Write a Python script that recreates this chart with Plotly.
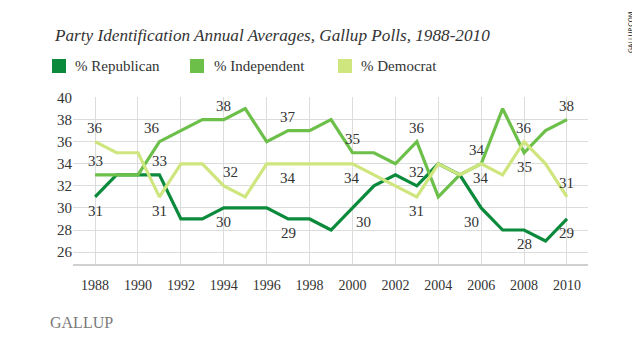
import plotly.graph_objects as go

years = list(range(1988, 2011))
republican = [31, 33, 33, 33, 29, 29, 30, 30, 30, 29, 29, 28, 30, 32, 33, 32, 34, 33, 30, 28, 28, 27, 29]
independent = [33, 33, 33, 36, 37, 38, 38, 39, 36, 37, 37, 38, 35, 35, 34, 36, 31, 33, 34, 39, 35, 37, 38]
democrat = [36, 35, 35, 31, 34, 34, 32, 31, 34, 34, 34, 34, 34, 33, 32, 31, 34, 33, 34, 33, 36, 34, 31]

series_names = ["% Republican", "% Independent", "% Democrat"]
x_ticks = list(range(1988, 2011, 2))
y_ticks = list(range(26, 41, 2))

# value labels: (year, series index, above?, xshift)
value_labels = [
    (1988, 2, True, 0), (1988, 1, True, 0), (1988, 0, False, 0),
    (1991, 1, True, -7), (1991, 0, True, 0), (1991, 2, False, 0),
    (1994, 1, True, 0), (1994, 2, True, 7), (1994, 0, False, 0),
    (1997, 1, True, 0), (1997, 2, False, 0), (1997, 0, False, 0),
    (2000, 1, True, 0), (2000, 2, False, 0), (2000, 0, False, 11),
    (2003, 1, True, 0), (2003, 0, True, 0), (2003, 2, False, 0),
    (2006, 1, True, -4), (2006, 2, False, 0), (2006, 0, False, -10),
    (2008, 2, True, 0), (2008, 1, False, 0), (2008, 0, False, 0),
    (2010, 1, True, 0), (2010, 2, True, 0), (2010, 0, False, 0),
]

colors = ["#0B8A3C", "#6CC04A", "#CFE67E"]
all_values = [republican, independent, democrat]
SERIF = "Liberation Serif"
TXT = "#333333"

# the page puts the figure 8px in from the top-left corner of the window
OFF = 8
W, H = 640 - OFF, 360 - OFF
L, R, T, B = 73 - OFF, 52, 97 - OFF, 96
PW, PH = W - L - R, H - T - B


def px(x):
    return (x - OFF - L) / PW


def py(y):
    return (H - B - (y - OFF)) / PH


fig = go.Figure()
for idx in [0, 1, 2]:
    fig.add_trace(go.Scatter(
        x=years, y=all_values[idx], mode="lines", name=series_names[idx],
        line=dict(color=colors[idx], width=3.2), showlegend=False,
        hoverinfo="x+y",
    ))

annotations = []
for yr, si, above, xs in value_labels:
    v = all_values[si][years.index(yr)]
    annotations.append(dict(
        x=yr, y=v, xref="x", yref="y", text=str(v), showarrow=False,
        font=dict(family=SERIF, size=15, color=TXT),
        yshift=14 if above else -14, xshift=xs,
    ))

# title
annotations.append(dict(
    x=px(52), y=py(36), xref="paper", yref="paper", xanchor="left", yanchor="middle",
    text="<i>Party Identification Annual Averages, Gallup Polls, 1988-2010</i>",
    showarrow=False, font=dict(family=SERIF, size=17.2, color=TXT),
))

# legend
shapes = []
leg_sq = [52, 190, 338]
leg_tx = [73, 212, 359]
for i in range(3):
    shapes.append(dict(
        type="rect", xref="paper", yref="paper",
        x0=px(leg_sq[i]), x1=px(leg_sq[i] + 14), y0=py(73), y1=py(59),
        fillcolor=colors[i], line=dict(width=0),
    ))
    annotations.append(dict(
        x=px(leg_tx[i]), y=py(66), xref="paper", yref="paper", xanchor="left",
        yanchor="middle", text=series_names[i], showarrow=False,
        font=dict(family=SERIF, size=15, color=TXT),
    ))

# Gallup logo & side text
annotations.append(dict(
    x=px(48), y=py(322), xref="paper", yref="paper", xanchor="left", yanchor="middle",
    text="GALLUP", showarrow=False,
    font=dict(family=SERIF, size=16, color="#7a7a7a"),
))
annotations.append(dict(
    x=px(631), y=py(33), xref="paper", yref="paper", xanchor="center", yanchor="middle",
    text="GALLUP.COM", showarrow=False, textangle=-90,
    font=dict(family="DejaVu Sans", size=6.5, color="#111111"),
))

fig.update_layout(
    width=W, height=H,
    margin=dict(l=L, r=R, t=T, b=B),
    paper_bgcolor="white", plot_bgcolor="white",
    showlegend=False,
    annotations=annotations, shapes=shapes,
    xaxis=dict(
        range=[1986.97, 2010.98], tickvals=x_ticks, ticktext=[str(t) for t in x_ticks],
        showgrid=True, gridcolor="#dcdcdc", gridwidth=1, zeroline=False,
        showline=True, linecolor="#d0d0d0", linewidth=2, ticks="",
        tickfont=dict(family=SERIF, size=14, color=TXT), ticklabelstandoff=7,
        fixedrange=True,
    ),
    yaxis=dict(
        range=[24.92, 40.05], tickvals=y_ticks,
        showgrid=True, gridcolor="#dcdcdc", gridwidth=1, zeroline=False,
        showline=False, ticks="",
        tickfont=dict(family=SERIF, size=15, color=TXT),
        fixedrange=True,
    ),
)

fig.write_html("out.html")
